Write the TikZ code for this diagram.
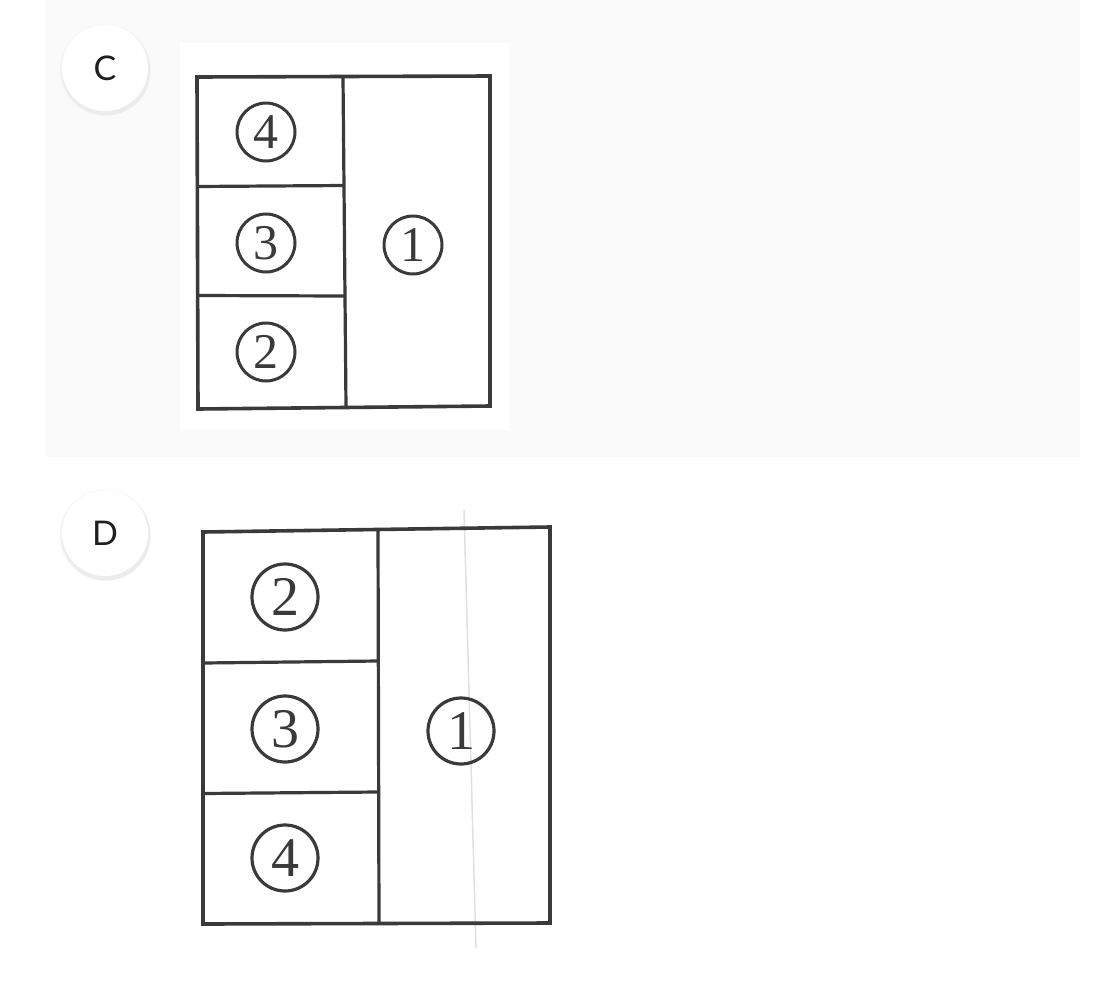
\documentclass[tikz,border=0pt]{standalone}
\usepackage{fontspec}
\newfontfamily\badgefont{Lato}
\newfontfamily\digitfont{Liberation Serif}
\definecolor{panelgray}{HTML}{FAFAFA}
\definecolor{ink}{HTML}{3A3A3A}
\definecolor{shadowgray}{HTML}{ECECEC}
\begin{document}
\begin{tikzpicture}[x=1pt,y=-1pt,
  badge/.style={circle, fill=white, minimum size=86pt, inner sep=0pt,
    font=\badgefont\fontsize{34}{34}\selectfont, text=black!88},
  frame/.style={draw=ink, line width=3.6pt, line join=miter},
  divider/.style={draw=ink, line width=3.2pt},
  cnumC/.style={circle, draw=ink, line width=3pt, minimum size=58pt, inner sep=0pt,
    text=ink, font=\digitfont\fontsize{50}{50}\selectfont},
  cnumD/.style={circle, draw=ink, line width=3.2pt, minimum size=66pt, inner sep=0pt,
    text=ink, font=\digitfont\fontsize{56}{56}\selectfont}
]
\useasboundingbox (0,0) rectangle (1112,1002);
\fill[white] (0,0) rectangle (1112,1002);
% grey panel of option C
\fill[panelgray] (46,0) rectangle (1080,457);
\fill[white] (180,43) rectangle (510,430);

% badges
\fill[black!4] (105,70) circle[radius=45.5pt];
\fill[shadowgray] (106,71) circle[radius=44.5pt];
\node[badge] (badgeC) at (105,68) {C};
\fill[black!4] (105,535) circle[radius=45.5pt];
\fill[shadowgray] (106,536) circle[radius=44.5pt];
\node[badge] (badgeD) at (105,533) {D};

% ---- figure C ----
\draw[frame] (197,77) -- (490,76) -- (490,406) -- (198,409) -- cycle;
\draw[divider] (343,77) -- (346,407);
\draw[divider] (197,186.5) -- (344,185.5);
\draw[divider] (197,295.5) -- (345,296);
\node[cnumC] (c4) at (266,132) {4};
\node[cnumC] (c3) at (266,243) {3};
\node[cnumC] (c2) at (266,352) {2};
\node[cnumC] (c1) at (413,245) {1};

% ---- figure D ----
\draw[black!12, line width=1.5pt] (464,510) -- (476,948);
\draw[frame] (203,532) -- (550,527) -- (550,923) -- (203,924) -- cycle;
\draw[divider] (378,530) -- (379,924);
\draw[divider] (203,663) -- (378,661);
\draw[divider] (203,793.5) -- (378,792);
\node[cnumD] (d2) at (285,597) {2};
\node[cnumD] (d3) at (285,729) {3};
\node[cnumD] (d4) at (285,858) {4};
\node[cnumD] (d1) at (461,731) {1};
\end{tikzpicture}
\end{document}
